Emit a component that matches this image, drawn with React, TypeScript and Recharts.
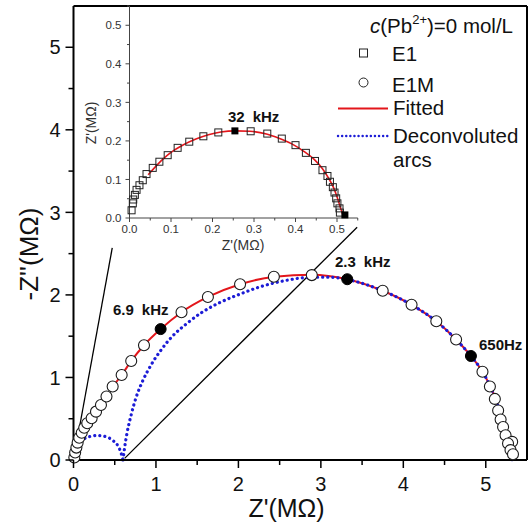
import { ComposedChart, Scatter, Line, XAxis, YAxis, ReferenceLine } from "recharts";

const FONT = "'Liberation Sans', Arial, sans-serif";

// main plot: E1M measured points (Z', -Z'' in MOhm)
const e1mX = [0.01, 0.02, 0.035, 0.05, 0.07, 0.1, 0.13, 0.167, 0.22, 0.273, 0.333, 0.4, 0.475, 0.584, 0.7, 0.855, 1.31, 1.63, 2.02, 2.43, 2.89, 3.75, 4.1, 4.4, 4.64, 4.96, 5.05, 5.11, 5.15, 5.18, 5.21, 5.24, 5.32, 5.27, 5.3, 5.33];
const e1mY = [0.03, 0.09, 0.15, 0.21, 0.27, 0.33, 0.39, 0.445, 0.505, 0.586, 0.667, 0.77, 0.89, 1.03, 1.2, 1.39, 1.79, 1.975, 2.13, 2.22, 2.24, 2.05, 1.88, 1.68, 1.46, 1.07, 0.89, 0.74, 0.6, 0.49, 0.4, 0.3, 0.22, 0.2, 0.12, 0.07];
// highlighted frequencies: 6.9 kHz, 2.3 kHz, 650 Hz
const e1mMarkX = [1.057, 3.32, 4.82];
const e1mMarkY = [1.586, 2.19, 1.26];

const fitX = [0.45, 0.584, 0.7, 0.855, 1.057, 1.31, 1.63, 2.02, 2.44, 2.89, 3.32, 3.75, 4.1, 4.4, 4.64, 4.82, 4.96, 5.06, 5.14, 5.2, 5.25, 5.29, 5.31];
const fitY = [0.86, 1.03, 1.2, 1.39, 1.586, 1.79, 1.975, 2.13, 2.22, 2.245, 2.19, 2.05, 1.88, 1.68, 1.46, 1.26, 1.07, 0.88, 0.68, 0.47, 0.28, 0.12, 0.03];

// deconvoluted arcs
const arc1X = [0, 0.02, 0.06, 0.12, 0.2, 0.3, 0.4, 0.48, 0.54, 0.575, 0.6];
const arc1Y = [0, 0.11, 0.19, 0.25, 0.285, 0.297, 0.28, 0.235, 0.17, 0.09, 0];
const arc2X = [0.6, 0.62, 0.65, 0.7, 0.76, 0.84, 0.94, 1.06, 1.2, 1.37, 1.56, 1.78, 2.02, 2.27, 2.55, 2.83, 3.1, 3.35, 3.75, 4.1, 4.4, 4.64, 4.82, 4.96, 5.06, 5.14, 5.2, 5.25, 5.29, 5.32];
const arc2Y = [0, 0.15, 0.33, 0.55, 0.76, 0.96, 1.15, 1.33, 1.5, 1.65, 1.79, 1.91, 2.01, 2.1, 2.17, 2.21, 2.215, 2.18, 2.05, 1.88, 1.68, 1.46, 1.26, 1.07, 0.88, 0.68, 0.47, 0.28, 0.12, 0];

// inset: E1 measured points
const e1X = [0.005, 0.008, 0.009, 0.013, 0.017, 0.024, 0.032, 0.041, 0.056, 0.072, 0.092, 0.116, 0.144, 0.178, 0.214, 0.292, 0.332, 0.367, 0.4, 0.425, 0.447, 0.465, 0.477, 0.483, 0.49, 0.494, 0.498, 0.501, 0.506, 0.507];
const e1Y = [0.02, 0.038, 0.048, 0.06, 0.073, 0.085, 0.098, 0.114, 0.13, 0.146, 0.163, 0.182, 0.198, 0.212, 0.222, 0.225, 0.219, 0.206, 0.189, 0.169, 0.148, 0.124, 0.109, 0.094, 0.08, 0.066, 0.051, 0.038, 0.025, 0.014];
// 32 kHz and end point
const e1MarkX = [0.254, 0.519];
const e1MarkY = [0.226, 0.008];
const insetFitX = [0.045, 0.06, 0.08, 0.1, 0.13, 0.16, 0.19, 0.22, 0.255, 0.29, 0.33, 0.36, 0.39, 0.42, 0.445, 0.465, 0.48, 0.492, 0.501, 0.508, 0.515];
const insetFitY = [0.112, 0.13, 0.152, 0.17, 0.19, 0.205, 0.216, 0.223, 0.226, 0.225, 0.218, 0.207, 0.193, 0.173, 0.152, 0.128, 0.103, 0.078, 0.052, 0.028, 0.005];

const mainTicks = [0, 0.5, 1, 1.5, 2, 2.5, 3, 3.5, 4, 4.5, 5];
const insetTicks = [0, 0.05, 0.1, 0.15, 0.2, 0.25, 0.3, 0.35, 0.4, 0.45, 0.5, 0.55];

const zip = (xs: number[], ys: number[]) => xs.map((x, i) => ({ x, y: ys[i] }));

const e1m = zip(e1mX, e1mY);
const e1mMarks = zip(e1mMarkX, e1mMarkY);
const fit = zip(fitX, fitY);
const arc1 = zip(arc1X, arc1Y);
const arc2 = zip(arc2X, arc2Y);
const e1 = zip(e1X, e1Y);
const e1Marks = zip(e1MarkX, e1MarkY);
const insetFit = zip(insetFitX, insetFitY);

const RED = "#e3161b";
const BLUE = "#1c1cd6";

const isMajor = (v: number, step: number) => Math.abs(v / step - Math.round(v / step)) < 1e-6;

// tick renderers (x/y from recharts are label anchors: axis - tickSize - tickMargin)
const MainYTick = (p: any) => {
  const ax = p.x + 12;
  const v = p.payload.value;
  const major = isMajor(v, 1);
  return (
    <g>
      <line x1={ax - (major ? 8 : 5)} x2={ax} y1={p.y} y2={p.y} stroke="#000" strokeWidth={1.5} />
      {major && (
        <text x={ax - 13} y={p.y} dy="0.36em" textAnchor="end" fontSize={20} fontFamily={FONT} fill="#111">
          {v}
        </text>
      )}
    </g>
  );
};

const MainXTick = (p: any) => {
  const ay = p.y - 12;
  const v = p.payload.value;
  const major = isMajor(v, 1);
  return (
    <g>
      <line x1={p.x} x2={p.x} y1={ay} y2={ay + (major ? 8 : 5)} stroke="#000" strokeWidth={1.5} />
      {major && (
        <text x={p.x} y={ay + 31} textAnchor="middle" fontSize={20} fontFamily={FONT} fill="#111">
          {v}
        </text>
      )}
    </g>
  );
};

const InsetYTick = (p: any) => {
  const ax = p.x + 6;
  const v = p.payload.value;
  const major = isMajor(v, 0.1);
  return (
    <g>
      <line x1={ax - (major ? 4 : 2.5)} x2={ax} y1={p.y} y2={p.y} stroke="#444" strokeWidth={1} />
      {major && (
        <text x={ax - 8} y={p.y} dy="0.36em" textAnchor="end" fontSize={11.5} fontFamily={FONT} fill="#333">
          {v.toFixed(1)}
        </text>
      )}
    </g>
  );
};

const InsetXTick = (p: any) => {
  const ay = p.y - 6;
  const v = p.payload.value;
  const major = isMajor(v, 0.1);
  return (
    <g>
      <line x1={p.x} x2={p.x} y1={ay} y2={ay + (major ? 4 : 2.5)} stroke="#444" strokeWidth={1} />
      {major && (
        <text x={p.x} y={ay + 15} textAnchor="middle" fontSize={11.5} fontFamily={FONT} fill="#333">
          {v.toFixed(1)}
        </text>
      )}
    </g>
  );
};

const openCircle = (p: any) => <circle cx={p.cx} cy={p.cy} r={5.5} fill="#fff" stroke="#1a1a1a" strokeWidth={1.1} />;
const filledCircle = (p: any) => <circle cx={p.cx} cy={p.cy} r={5.5} fill="#000" stroke="#000" />;
const openSquare = (p: any) => (
  <rect x={p.cx - 3.5} y={p.cy - 3.5} width={7} height={7} fill="none" stroke="#222" strokeWidth={1} />
);
const filledSquare = (p: any) => <rect x={p.cx - 3.5} y={p.cy - 3.5} width={7} height={7} fill="#000" />;

const dotted = { strokeDasharray: "0.1 5", strokeLinecap: "round" as const, strokeWidth: 3.2 };

// frequency label: value and unit set apart as in the reference
const Freq = ({ x, y, value, unit, gap }: { x: number; y: number; value: string; unit: string; gap: number }) => (
  <text x={x} y={y}>
    <tspan>{value}</tspan>
    <tspan dx={gap}>{unit}</tspan>
  </text>
);

export default function App() {
  return (
    <div style={{ position: "absolute", left: 0, top: 0, width: 528, height: 522, background: "#fff", fontFamily: FONT }}>
      <div style={{ position: "absolute", left: 0, top: 0 }}>
        <ComposedChart width={528} height={522} margin={{ top: 6, right: 1, bottom: 22, left: 13.5 }}>
          <XAxis
            type="number"
            dataKey="x"
            domain={[0, 5.5]}
            ticks={mainTicks}
            height={40}
            tickSize={8}
            tickMargin={4}
            tickLine={false}
            tick={<MainXTick />}
            axisLine={{ stroke: "#000", strokeWidth: 2 }}
            interval={0}
          />
          <YAxis
            type="number"
            dataKey="y"
            domain={[0, 5.5]}
            ticks={mainTicks}
            width={60}
            tickSize={8}
            tickMargin={4}
            tickLine={false}
            tick={<MainYTick />}
            axisLine={{ stroke: "#000", strokeWidth: 2 }}
            interval={0}
          />
          <ReferenceLine y={5.5} stroke="#000" strokeWidth={2} />
          <ReferenceLine x={5.5} stroke="#000" strokeWidth={2} />
          <ReferenceLine segment={[{ x: 0, y: 0 }, { x: 0.47, y: 2.57 }]} stroke="#000" strokeWidth={1.3} />
          <ReferenceLine segment={[{ x: 0.62, y: 0.02 }, { x: 3.44, y: 2.82 }]} stroke="#000" strokeWidth={1.3} />
          <Line data={fit} dataKey="y" type="monotoneX" stroke={RED} strokeWidth={2} dot={false} activeDot={false} isAnimationActive={false} />
          <Scatter data={e1m} shape={openCircle} isAnimationActive={false} />
          <Line data={arc1} dataKey="y" type="monotoneX" stroke={BLUE} {...dotted} dot={false} activeDot={false} isAnimationActive={false} />
          <Line data={arc2} dataKey="y" type="monotoneX" stroke={BLUE} {...dotted} dot={false} activeDot={false} isAnimationActive={false} />
          <Scatter data={e1mMarks} shape={filledCircle} isAnimationActive={false} />
        </ComposedChart>
      </div>

      <div style={{ position: "absolute", left: 70, top: 0 }}>
        <ComposedChart width={300} height={250} margin={{ top: 6, right: 12.25, bottom: 10, left: 14.5 }}>
          <XAxis
            type="number"
            dataKey="x"
            domain={[0, 0.55]}
            ticks={insetTicks}
            height={22}
            tickSize={4}
            tickMargin={2}
            tickLine={false}
            tick={<InsetXTick />}
            axisLine={{ stroke: "#444", strokeWidth: 1 }}
            interval={0}
          />
          <YAxis
            type="number"
            dataKey="y"
            domain={[0, 0.55]}
            ticks={insetTicks}
            width={45}
            tickSize={4}
            tickMargin={2}
            tickLine={false}
            tick={<InsetYTick />}
            axisLine={{ stroke: "#444", strokeWidth: 1 }}
            interval={0}
          />
          <Scatter data={e1} shape={openSquare} isAnimationActive={false} />
          <Line data={insetFit} dataKey="y" type="monotoneX" stroke={RED} strokeWidth={1.6} dot={false} activeDot={false} isAnimationActive={false} />
          <Scatter data={e1Marks} shape={filledSquare} isAnimationActive={false} />
        </ComposedChart>
      </div>

      <svg width={528} height={522} style={{ position: "absolute", left: 0, top: 0, pointerEvents: "none" }} fontFamily={FONT}>
        {/* axis titles */}
        <text x={38} y={254} transform="rotate(-90 38 254)" textAnchor="middle" fontSize={26} fill="#111">
          -Z''(MΩ)
        </text>
        <text x={286.5} y={517} textAnchor="middle" fontSize={25} fill="#111">
          Z'(MΩ)
        </text>
        <text x={95.5} y={123} transform="rotate(-90 95.5 123)" textAnchor="middle" fontSize={14} fill="#333">
          Z'(MΩ)
        </text>
        <text x={243} y={250} textAnchor="middle" fontSize={14} fill="#333">
          Z'(MΩ)
        </text>

        {/* frequency annotations */}
        <g fontSize={15} fontWeight="bold" fill="#111">
          <Freq x={228} y={122} value="32" unit="kHz" gap={8} />
          <Freq x={113} y={315} value="6.9" unit="kHz" gap={8} />
          <Freq x={335} y={267} value="2.3" unit="kHz" gap={8} />
          <text x={479} y={350}>650Hz</text>
        </g>

        {/* legend */}
        <g fontSize={20.5} fill="#111">
          <text x={370} y={33}>
            <tspan fontStyle="italic">c</tspan>
            <tspan>(Pb</tspan>
            <tspan fontSize={13} dy={-9}>2+</tspan>
            <tspan dy={9}>)=0 mol/L</tspan>
          </text>
          <rect x={359.5} y={49} width={8} height={8} fill="none" stroke="#222" strokeWidth={1} />
          <text x={392} y={61}>E1</text>
          <circle cx={363.5} cy={82.5} r={4.5} fill="none" stroke="#222" strokeWidth={1} />
          <text x={392} y={92}>E1M</text>
          <line x1={338} x2={388} y1={108.5} y2={108.5} stroke={RED} strokeWidth={2} />
          <text x={393} y={115}>Fitted</text>
          <line x1={338} x2={388} y1={136} y2={136} stroke={BLUE} strokeWidth={2.4} strokeDasharray="0.1 4" strokeLinecap="round" />
          <text x={393} y={143}>Deconvoluted</text>
          <text x={393} y={167}>arcs</text>
        </g>
      </svg>
    </div>
  );
}
